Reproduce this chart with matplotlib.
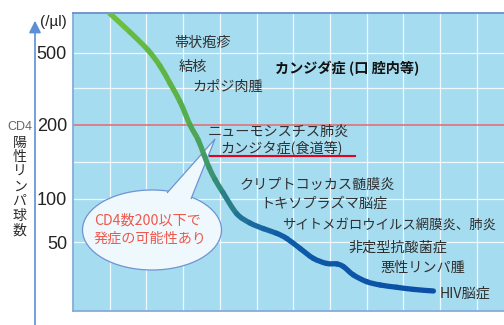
import numpy as np
import matplotlib
matplotlib.use('Agg')
import matplotlib.pyplot as plt
import matplotlib.transforms as mtransforms
from matplotlib.collections import PathCollection
from matplotlib.colors import LinearSegmentedColormap
from matplotlib.patches import Ellipse, Polygon, FancyArrowPatch
from matplotlib.lines import Line2D
from matplotlib.path import Path

plt.rcParams['font.family'] = ['Noto Sans CJK JP', 'DejaVu Sans']
NARROW = ['Liberation Sans Narrow', 'Liberation Sans', 'DejaVu Sans']

# CD4 count over the course of infection (time in grid steps)
time = [1.0, 1.55, 2.04, 2.37, 2.64, 2.92, 3.19, 3.41, 3.57, 3.71, 3.87, 4.09,
        4.46, 4.82, 5.19, 5.55, 5.82, 6.19, 6.55, 6.91, 7.19, 7.37, 7.64,
        8.00, 8.37, 8.82, 9.27, 9.82]
cd4 = [824, 650, 518, 423, 340, 268, 200, 174, 151, 134, 120, 106,
       79, 68, 62, 57.5, 53, 45, 38.4, 35.4, 35.1, 33.6, 29.4,
       26.4, 25.0, 24.1, 23.3, 22.7]

tick_vals = [50, 100, 200, 500]
grid_vals = [50, 100, 142, 318, 500]
threshold = 200

diseases = ['帯状疱疹', '結核', 'カポジ肉腫', 'ニューモシスチス肺炎', 'カンジタ症(食道等)',
            'クリプトコッカス髄膜炎', 'トキソプラズマ脳症', 'サイトメガロウイルス網膜炎、肺炎',
            '非定型抗酸菌症', '悪性リンパ腫', 'HIV脳症']
disease_pos = [(174, 42.5), (179, 67), (192, 87), (208, 131.5), (220, 148),
               (240, 185), (260, 203.5), (282, 225), (348, 247.5), (380, 267.5),
               (440, 294)]
disease_size = [10.2, 10.2, 10.2, 10.2, 10.2, 10.2, 10.2, 9.6, 10.2, 10.2, 10.2]
oral = 'カンジダ症 (口 腔内等)'
bubble_lines = ['CD4数200以下で', '発症の可能性あり']
ylabel_chars = '陽性リンパ球数'

# schematic CD4 axis: piecewise log scale
LOG_PTS = [1.218, 1.699, 2.0, 2.301, 2.699, 2.916]
U_PTS = [0.0, 0.231, 0.3756, 0.6244, 0.8675, 1.0]


def fwd(v):
    return np.interp(np.log10(np.clip(v, 1e-3, None)), LOG_PTS, U_PTS)


def inv(u):
    return 10 ** np.interp(u, U_PTS, LOG_PTS)


W, H = 504, 325
fig = plt.figure(figsize=(W / 100, H / 100), dpi=100)
pix = mtransforms.Affine2D().scale(1 / W, -1 / H).translate(0, 1) + fig.transFigure

ax = fig.add_axes([73 / W, 1 - 310.7 / H, (W - 73) / W, (310.7 - 13.3) / H])
ax.set_facecolor('#a6dcef')
ax.set_yscale('function', functions=(fwd, inv))
ax.set_ylim(10 ** LOG_PTS[0], 10 ** LOG_PTS[-1])
ax.set_xlim(0, (W - 73) / 36.7)

for k in range(1, 12):
    ax.axvline(k, color='#eef9fd', lw=0.9, zorder=1)
for v in grid_vals:
    ax.axhline(v, color='#eef9fd', lw=0.9, zorder=1)
ax.axhline(threshold, color='#e0727a', lw=1.2, zorder=2)

# gradient curve, green -> blue, one Bezier piece per interval (Catmull-Rom)
t = np.array(time)
u = fwd(np.array(cd4))
P = np.column_stack([t, u])
Pe = np.vstack([P[0], P, P[-1]])
paths = []
for i in range(len(P) - 1):
    p0, p1, p2, p3 = Pe[i], Pe[i + 1], Pe[i + 2], Pe[i + 3]
    c1 = p1 + (p2 - p0) / 6
    c2 = p2 - (p3 - p1) / 6
    v = np.array([p1, c1, c2, p2])
    v[:, 1] = inv(v[:, 1])
    paths.append(Path(v, [Path.MOVETO, Path.CURVE4, Path.CURVE4, Path.CURVE4]))

cmap = LinearSegmentedColormap.from_list('cd4', [
    (0.0, '#6cc23c'), (0.21, '#5cb246'), (0.28, '#48a060'), (0.34, '#2f8680'),
    (0.42, '#1d6e9c'), (0.53, '#0f5ba8'), (1.0, '#0a4ea6')])
mid = (t[:-1] + t[1:]) / 2
curve = PathCollection(paths, facecolors='none', edgecolors=cmap((mid - 1) / 9),
                       linewidths=3.8, capstyle='round', joinstyle='round', zorder=4)
ax.add_collection(curve, autolim=False)

ax.set_xticks([])
ax.set_yticks(tick_vals)
ax.set_yticklabels([str(v) for v in tick_vals])
ax.tick_params(axis='y', length=0, pad=4.3, labelsize=13, labelcolor='#222222')
for lbl in ax.get_yticklabels():
    lbl.set_fontfamily(NARROW)

ax.spines['right'].set_visible(False)
ax.spines['top'].set_color('#6a8fd0')
ax.spines['top'].set_linewidth(1.3)
for s in ['left', 'bottom']:
    ax.spines[s].set_color('#86acd8')
    ax.spines[s].set_linewidth(1.3)

# speech bubble
bub_fc, bub_ec = '#eef8fd', '#6f93d3'
ax.add_patch(Ellipse((152, 230), 139, 80, transform=pix, fc=bub_fc, ec=bub_ec,
                     lw=0.9, zorder=3))
ax.add_patch(Polygon([(167, 193), (215, 139), (191, 199)], closed=False,
                     transform=pix, fc=bub_fc, ec=bub_ec, lw=0.9, zorder=3.5))
for i, line in enumerate(bubble_lines):
    ax.text(94, 220 + i * 18.3, line, transform=pix, fontsize=10.2,
            color='#f0584c', ha='left', va='center', zorder=6)

# disease labels
for name, (x, y), fs in zip(diseases, disease_pos, disease_size):
    ax.text(x, y, name, transform=pix, fontsize=fs, color='#303030',
            ha='left', va='center', zorder=6)
ax.text(275, 69, oral, transform=pix, fontsize=10.2, fontweight='bold',
        color='#111111', ha='left', va='center', zorder=6)
fig.add_artist(Line2D([210, 355], [156, 156], transform=pix, color='#e8001c', lw=1.5))

# y axis arrow and label
fig.add_artist(FancyArrowPatch((35, 326), (35, 20.7), transform=pix, arrowstyle='-|>',
                               mutation_scale=18, color='#5b8fd6', lw=1.2,
                               shrinkA=0, shrinkB=0))
fig.text(67, 22, '(/µl)', transform=pix, fontsize=11, color='#222222',
         ha='right', va='center', family=NARROW)
fig.text(19.5, 127, 'CD4', transform=pix, fontsize=9, color='#666666',
         ha='center', va='center', family=NARROW)
for i, ch in enumerate(ylabel_chars):
    fig.text(19.5, 142.5 + i * 14.7, ch, transform=pix, fontsize=10,
             color='#2a2a2a', ha='center', va='center')

fig.savefig('out.png', dpi=100)
